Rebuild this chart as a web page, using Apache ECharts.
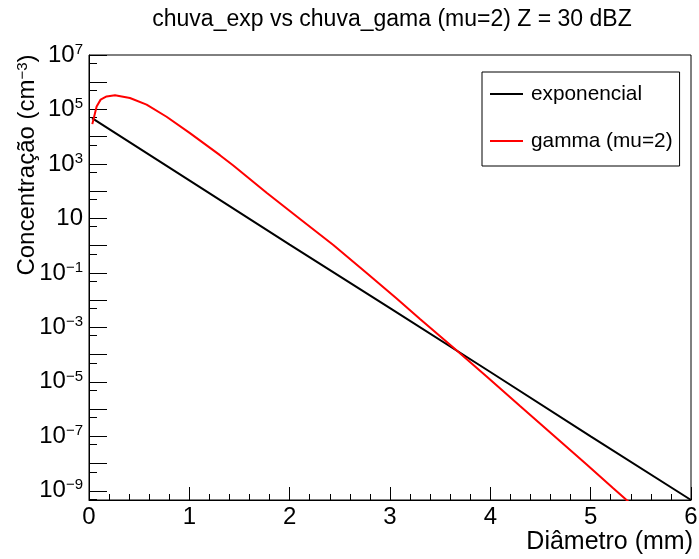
<!DOCTYPE html>
<html>
<head>
<meta charset="utf-8">
<script src="https://cdn.jsdelivr.net/npm/echarts@6/dist/echarts.min.js"></script>
<style>
  html, body { margin: 0; padding: 0; background: #fff; }
  #chart { width: 699px; height: 559px; }
</style>
</head>
<body>
<div id="chart"></div>
<script>
// Drop size distributions for rain at Z = 30 dBZ: exponential vs gamma (mu = 2)
const diamExp = [0.03, 1, 2, 3, 4, 5, 6];
const concExp = [4.8e4, 2.5e2, 1.1, 5.1e-3, 2.3e-5, 1.0e-7, 4.6e-10];

const diamGamma = [0.033, 0.076, 0.116, 0.175, 0.259, 0.408, 0.574, 0.773, 1.006, 1.305, 1.438,
                   1.77, 2.103, 2.435, 2.767, 3.066, 3.299, 3.648, 3.963, 4.296, 4.628, 4.96, 5.225, 5.45];
const concGamma = [2.9e4, 1.29e5, 2.3e5, 3.0e5, 3.3e5, 2.65e5, 1.5e5, 5.4e4, 1.35e4, 2.1e3, 8.8e2,
                   88, 9.6, 1.06, 0.1, 1.15e-2, 2.05e-3, 1.6e-4, 1.58e-5, 1.3e-6, 1.1e-7, 9.3e-9, 1.25e-9, 2.3e-10];

const seriesNames = ['exponencial', 'gamma (mu=2)'];

// y axis (log): range, decade ticks, half-decade ticks, labelled decades
const yMin = 4.6e-10;
const yMax = 1e7;
const decadeTicks = [1e-9, 1e-8, 1e-7, 1e-6, 1e-5, 1e-4, 1e-3, 1e-2, 1e-1, 1, 10, 1e2, 1e3, 1e4, 1e5, 1e6, 1e7];
const halfDecadeTicks = [5e-10, 5e-9, 5e-8, 5e-7, 5e-6, 5e-5, 5e-4, 5e-3, 5e-2, 0.5, 5, 50, 5e2, 5e3, 5e4, 5e5, 5e6];
const labelledTicks = [1e-9, 1e-7, 1e-5, 1e-3, 1e-1, 10, 1e3, 1e5, 1e7];

const FONT = '"Liberation Sans", Arial, Helvetica, sans-serif';

function powerLabel(v) {
  const e = Math.round(Math.log10(v));
  if (e === 0) return '1';
  if (e === 1) return '10';
  return '10{sup|' + (e < 0 ? '\u2212' + (-e) : String(e)) + '}';
}

const chart = echarts.init(document.getElementById('chart'), null, { renderer: 'canvas' });

chart.setOption({
  animation: false,
  backgroundColor: '#fff',
  title: {
    text: 'chuva_exp vs chuva_gama (mu=2) Z = 30 dBZ',
    left: 387,
    top: 3,
    textAlign: 'center',
    textStyle: { fontFamily: FONT, fontSize: 23, fontWeight: 'normal', color: '#000' }
  },
  grid: {
    left: 89, right: 8, top: 55, bottom: 59,
    outerBoundsMode: 'none',
    containLabel: false,
    show: true, borderColor: '#000', borderWidth: 1, backgroundColor: 'transparent'
  },
  legend: {
    data: seriesNames,
    orient: 'vertical',
    left: 482,
    top: 72,
    padding: [10, 7, 13, 8],
    itemGap: 23,
    itemWidth: 33,
    itemHeight: 2,
    icon: 'rect',
    backgroundColor: '#fff',
    borderColor: '#000',
    borderWidth: 1,
    textStyle: { fontFamily: FONT, fontSize: 20.8, color: '#000', lineHeight: 24, padding: [0, 0, 0, 3] }
  },
  graphic: [{
    // y axis title, reading upwards
    type: 'text',
    x: 27,
    y: 165,
    rotation: Math.PI / 2,
    style: {
      text: 'Concentração (cm{sup|\u22123})',
      fontFamily: FONT,
      fontSize: 24,
      fill: '#000',
      align: 'center',
      verticalAlign: 'middle',
      rich: {
        sup: { fontFamily: FONT, fontSize: 15, fill: '#000', verticalAlign: 'top', lineHeight: 15 }
      }
    }
  }, {
    // x axis title, right-aligned under the axis end
    type: 'text',
    x: 693,
    y: 542,
    style: {
      text: 'Diâmetro (mm)',
      fontFamily: FONT,
      fontSize: 25,
      fill: '#000',
      align: 'right',
      verticalAlign: 'middle'
    }
  }],
  xAxis: {
    type: 'value',
    min: 0,
    max: 6,
    interval: 1,
    axisLine: { show: true, lineStyle: { color: '#000', width: 1 } },
    axisTick: { show: true, inside: true, length: 13, lineStyle: { color: '#000', width: 1 } },
    minorTick: { show: true, splitNumber: 5, length: 6, lineStyle: { color: '#000', width: 1 } },
    splitLine: { show: false },
    minorSplitLine: { show: false },
    axisLabel: { fontFamily: FONT, fontSize: 24, color: '#000', margin: 5 }
  },
  yAxis: [{
    type: 'log',
    logBase: 10,
    min: yMin,
    max: yMax,
    position: 'left',
    axisLine: { show: true, lineStyle: { color: '#000', width: 1 } },
    axisTick: { show: true, inside: true, length: 18, customValues: decadeTicks, lineStyle: { color: '#000', width: 1 } },
    minorTick: { show: false },
    splitLine: { show: false },
    axisLabel: {
      customValues: labelledTicks,
      formatter: powerLabel,
      fontFamily: FONT,
      fontSize: 24,
      lineHeight: 26,
      color: '#000',
      margin: 6,
      rich: {
        sup: { fontFamily: FONT, fontSize: 15, lineHeight: 15, color: '#000', verticalAlign: 'top' }
      }
    }
  }, {
    type: 'log',
    logBase: 10,
    min: yMin,
    max: yMax,
    position: 'left',
    axisLine: { show: false },
    axisTick: { show: true, inside: true, length: 8, customValues: halfDecadeTicks, lineStyle: { color: '#000', width: 1 } },
    minorTick: { show: false },
    splitLine: { show: false },
    axisLabel: { show: false }
  }],
  series: [{
    name: seriesNames[0],
    type: 'line',
    yAxisIndex: 0,
    data: diamExp.map((d, i) => [d, concExp[i]]),
    symbol: 'none',
    lineStyle: { color: '#000', width: 2 },
    itemStyle: { color: '#000' },
    clip: true
  }, {
    name: seriesNames[1],
    type: 'line',
    yAxisIndex: 0,
    data: diamGamma.map((d, i) => [d, concGamma[i]]),
    symbol: 'none',
    smooth: false,
    lineStyle: { color: '#ff0000', width: 2 },
    itemStyle: { color: '#ff0000' },
    clip: true
  }]
});
</script>
</body>
</html>
